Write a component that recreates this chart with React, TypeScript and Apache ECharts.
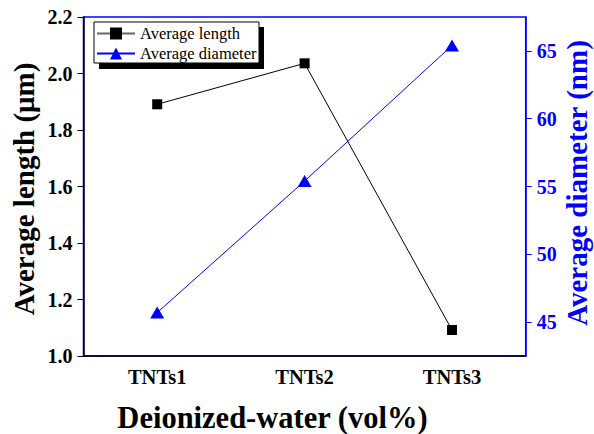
import React, { useEffect, useRef } from "react";
import * as echarts from "echarts";

const categories = ["TNTs1", "TNTs2", "TNTs3"];
const avgLength = [1.891, 2.036, 1.092];
const avgDiameter = [45.7, 55.4, 65.4];
const leftTicks = [1.0, 1.2, 1.4, 1.6, 1.8, 2.0, 2.2];
const rightTicks = [45, 50, 55, 60, 65];

const FONT = "Times New Roman, Liberation Serif, DejaVu Serif, serif";

export default function App() {
  const ref = useRef<HTMLDivElement>(null);
  useEffect(() => {
    if (!ref.current) return;
    const chart = echarts.init(ref.current, null, { renderer: "svg" });
    chart.setOption({
      animation: false,
      backgroundColor: "#ffffff",
      textStyle: { fontFamily: FONT },
      grid: {
        left: 83.5,
        right: 68.3,
        top: 17,
        bottom: 78,
        show: true,
        borderColor: "#0000ff",
        borderWidth: 1.5,
        backgroundColor: "transparent",
      },
      graphic: [
        { type: "rect", shape: { x: 99, y: 27, width: 165, height: 42 }, style: { fill: "#000" }, z: 5 },
        { type: "rect", shape: { x: 94, y: 22, width: 165, height: 41 }, style: { fill: "#fff", stroke: "#000", lineWidth: 1 }, z: 6 },
        {
          type: "text",
          x: 272.5,
          y: 418,
          style: {
            text: "Deionized-water (vol%)",
            fontFamily: FONT,
            fontWeight: "bold",
            fontSize: 30.5,
            fill: "#000",
            align: "center",
            verticalAlign: "middle",
          },
        },
        {
          type: "text",
          x: 24,
          y: 189,
          rotation: Math.PI / 2,
          style: {
            text: "Average length (μm)",
            fontFamily: FONT,
            fontWeight: "bold",
            fontSize: 29,
            fill: "#000",
            align: "center",
            verticalAlign: "middle",
          },
        },
        {
          type: "text",
          x: 577,
          y: 183,
          rotation: Math.PI / 2,
          style: {
            text: "Average diameter (nm)",
            fontFamily: FONT,
            fontWeight: "bold",
            fontSize: 29,
            fill: "#0000ff",
            align: "center",
            verticalAlign: "middle",
          },
        },
      ],
      legend: {
        orient: "vertical",
        left: 96,
        top: 25,
        padding: 0,
        itemWidth: 38,
        itemHeight: 15,
        itemGap: 3,
        z: 10,
        textStyle: { fontFamily: FONT, fontSize: 16.5, color: "#000" },
        data: [
          { name: "Average length", lineStyle: { color: "#666" } },
          { name: "Average diameter" },
        ],
      },
      xAxis: {
        type: "category",
        data: categories,
        boundaryGap: true,
        axisLine: { lineStyle: { color: "#000", width: 1.5 } },
        axisTick: { alignWithLabel: true, length: 6, lineStyle: { color: "#000" } },
        axisLabel: { fontFamily: FONT, fontWeight: "bold", fontSize: 20.5, color: "#000", margin: 10 },
        splitLine: { show: false },
      },
      yAxis: [
        {
          type: "value",
          min: 1.0,
          max: 2.2,
          interval: 0.2,
          position: "left",
          axisLine: { show: true, lineStyle: { color: "#000", width: 1.5 } },
          axisTick: { show: true, length: 6, lineStyle: { color: "#000" } },
          axisLabel: {
            fontFamily: FONT,
            fontWeight: "bold",
            fontSize: 20,
            color: "#000",
            margin: 11,
            formatter: (v: number) => v.toFixed(1),
            customValues: leftTicks,
          },
          splitLine: { show: false },
        },
        {
          type: "value",
          min: 42.5,
          max: 67.5,
          position: "right",
          axisLine: { show: true, lineStyle: { color: "#0000ff", width: 1.5 } },
          axisTick: { show: true, length: 6, lineStyle: { color: "#0000ff" }, customValues: rightTicks },
          axisLabel: {
            fontFamily: FONT,
            fontWeight: "bold",
            fontSize: 20,
            color: "#0000ff",
            margin: 11,
            customValues: rightTicks,
          },
          splitLine: { show: false },
        },
      ],
      series: [
        {
          name: "Average length",
          type: "line",
          yAxisIndex: 0,
          data: avgLength,
          symbol: "rect",
          symbolSize: 10,
          itemStyle: { color: "#000" },
          lineStyle: { color: "#000", width: 1 },
        },
        {
          name: "Average diameter",
          type: "line",
          yAxisIndex: 1,
          data: avgDiameter,
          symbol: "triangle",
          symbolSize: [14, 12],
          itemStyle: { color: "#0000ff" },
          lineStyle: { color: "#0000ff", width: 1 },
        },
      ],
    });
    return () => chart.dispose();
  }, []);
  return <div ref={ref} style={{ width: 594, height: 434, position: "absolute", left: 0, top: 0 }} />;
}
